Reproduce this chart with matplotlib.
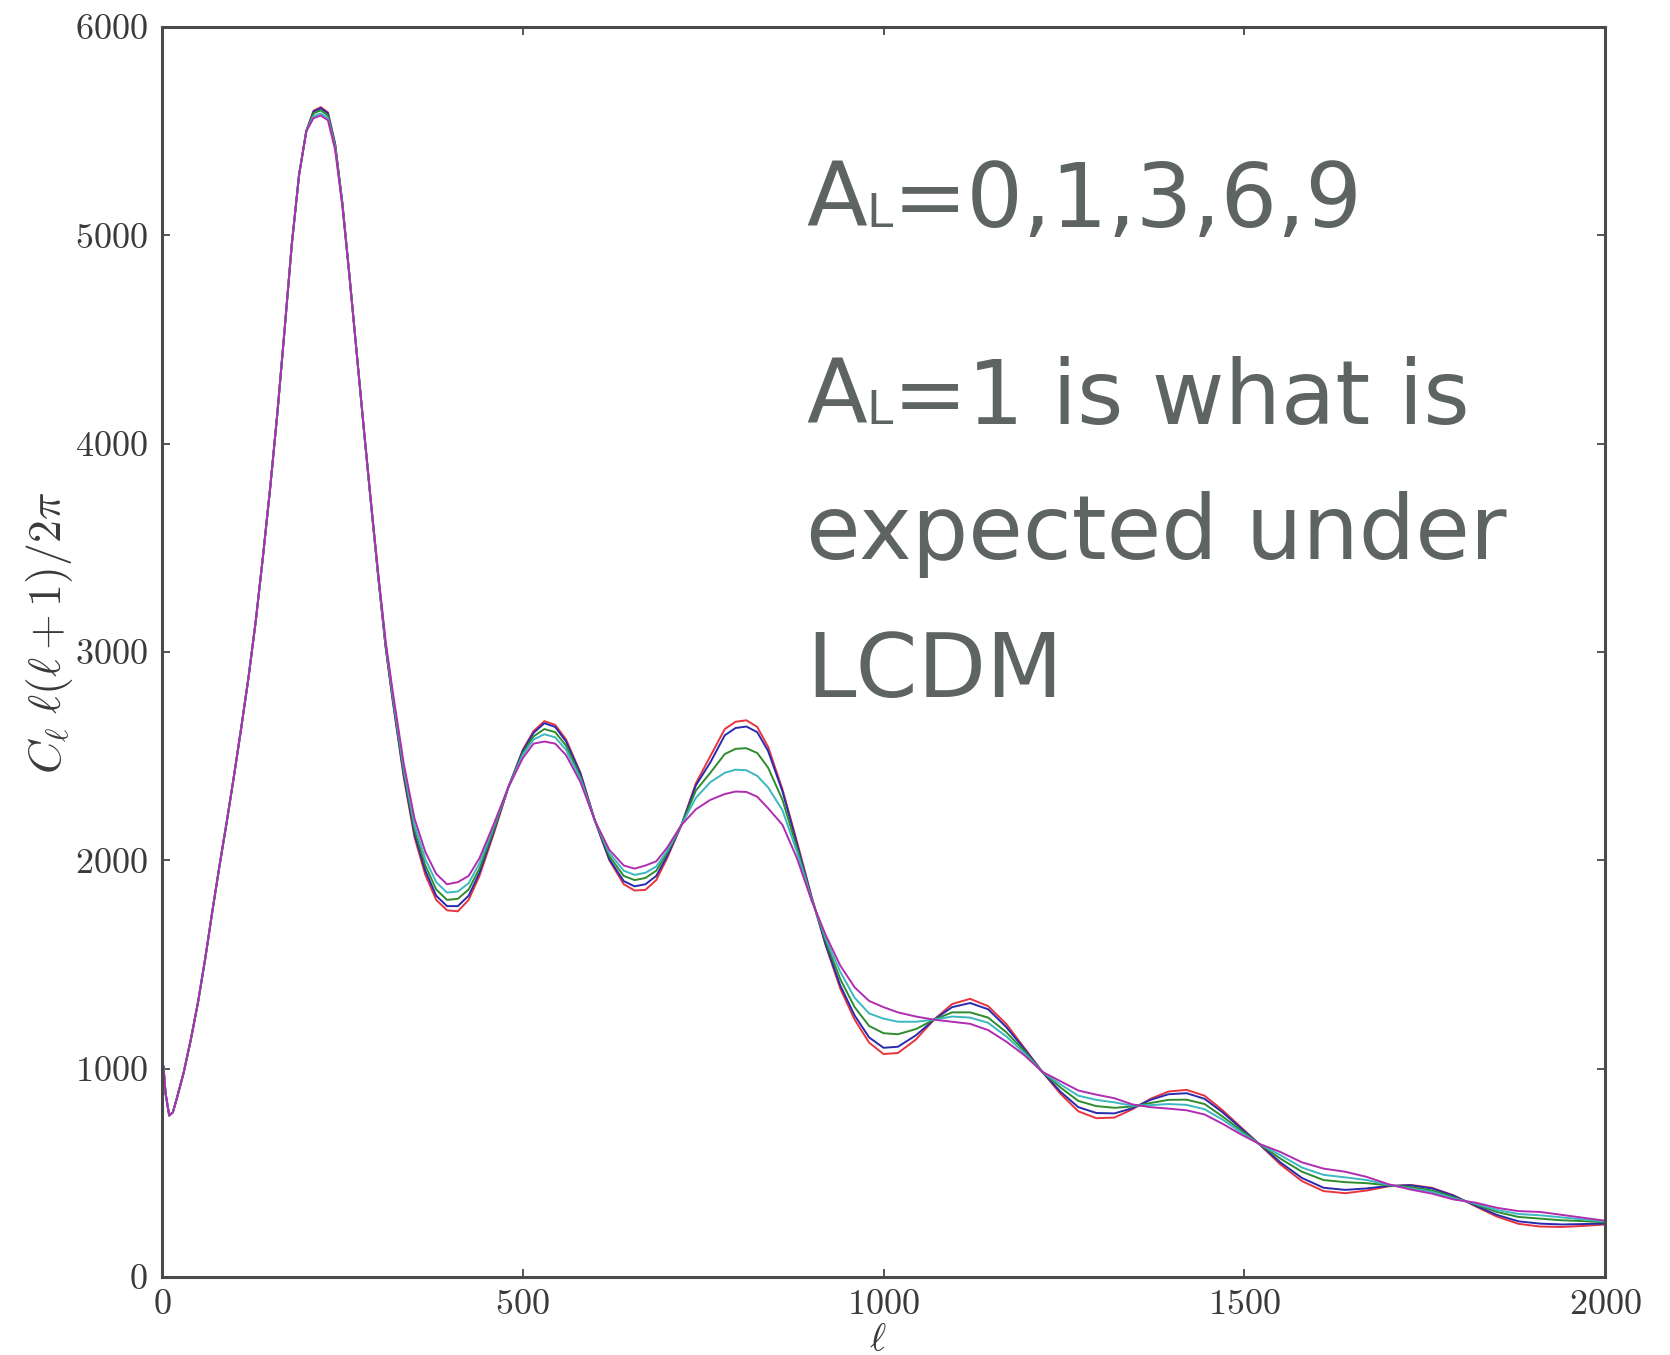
import matplotlib
matplotlib.use('Agg')
import matplotlib.pyplot as plt

# D_ell = C_ell l(l+1)/2pi for lensing amplitudes A_L = 0, 1, 3, 6, 9
LENSING_AMPS = [0, 1, 3, 6, 9]
LINE_COLORS = ['#e8343c', '#2a2ab0', '#2e8b2e', '#3cb8c0', '#b02cb0']

# below the first peak the five spectra lie on top of each other
LOW_ELL = [2, 5, 10, 15, 20, 30, 40, 50, 60, 70, 80, 90, 100, 110, 120,
           130, 140, 150, 160, 170, 180, 190, 200]
LOW_DL = [1010, 880, 775, 790, 850, 980, 1140, 1320, 1530, 1760, 1980, 2190,
          2410, 2640, 2880, 3150, 3460, 3790, 4150, 4550, 4960, 5290, 5500]

HIGH_ELL = [210, 220, 230, 240, 250, 260, 270, 280, 290, 300, 310, 320, 335,
            350, 365, 380, 395, 410, 425, 440, 460, 480, 500, 515, 530, 545,
            560, 580, 600, 620, 640, 655, 670, 685, 700, 720, 740, 760, 780,
            795, 810, 825, 840, 860, 880, 900, 920, 940, 960, 980, 1000, 1020,
            1045, 1070, 1095, 1120, 1145, 1170, 1195, 1220, 1245, 1270, 1295,
            1320, 1345, 1370, 1395, 1420, 1445, 1470, 1495, 1520, 1550, 1580,
            1610, 1640, 1670, 1700, 1730, 1760, 1790, 1820, 1850, 1880, 1910,
            1940, 1970, 2000]

DL_AL0 = [5598, 5615, 5590, 5440, 5155, 4800, 4430, 4060, 3700, 3350, 3020,
          2760, 2400, 2110, 1930, 1810, 1760, 1755,
          1810, 1925, 2130, 2350, 2530, 2620, 2668, 2650, 2580, 2420, 2190,
          2000, 1885, 1855, 1858, 1905, 2010, 2170, 2370, 2500, 2630, 2665,
          2672, 2640, 2545, 2340, 2090, 1830, 1590, 1385, 1235, 1125, 1070,
          1075, 1140, 1235, 1310, 1335, 1300, 1215, 1100, 985, 880, 795, 762,
          765, 805, 855, 890, 898, 870, 800, 720, 640, 540, 460, 412, 402,
          415, 435, 442, 428, 392, 340, 290, 255, 242, 240, 245, 252]
DL_AL1 = [5593, 5610, 5585, 5435, 5155, 4800, 4430, 4060, 3700, 3350, 3025,
          2765, 2410, 2125, 1950, 1830, 1780, 1780,
          1830, 1940, 2140, 2350, 2525, 2612, 2658, 2640, 2570, 2415, 2190,
          2005, 1900, 1875, 1885, 1925, 2020, 2170, 2360, 2470, 2600, 2635,
          2642, 2615, 2525, 2330, 2080, 1825, 1595, 1400, 1255, 1150, 1100,
          1105, 1160, 1235, 1295, 1315, 1285, 1200, 1095, 985, 890, 815, 787,
          785, 810, 850, 877, 882, 855, 790, 715, 640, 550, 475, 428, 418,
          425, 437, 440, 425, 390, 343, 298, 267, 256, 252, 254, 256]
DL_AL3 = [5585, 5600, 5575, 5430, 5150, 4800, 4430, 4060, 3702, 3355, 3030,
          2775, 2425, 2145, 1975, 1860, 1810, 1815,
          1860, 1960, 2150, 2350, 2515, 2595, 2630, 2615, 2550, 2400, 2190,
          2020, 1925, 1905, 1915, 1950, 2035, 2170, 2335, 2420, 2510, 2535,
          2538, 2515, 2445, 2290, 2060, 1820, 1610, 1430, 1295, 1205, 1170,
          1165, 1190, 1235, 1270, 1270, 1245, 1175, 1085, 985, 910, 845, 820,
          812, 818, 835, 850, 851, 830, 770, 705, 640, 568, 505, 465, 455,
          450, 440, 432, 415, 383, 348, 312, 288, 280, 272, 268, 262]
DL_AL6 = [5572, 5585, 5562, 5420, 5145, 4795, 4430, 4062, 3705, 3360, 3040,
          2790, 2445, 2170, 2005, 1895, 1845, 1850,
          1890, 1985, 2165, 2350, 2505, 2580, 2605, 2590, 2530, 2390, 2190,
          2035, 1950, 1930, 1940, 1970, 2045, 2170, 2300, 2375, 2420, 2435,
          2432, 2405, 2350, 2240, 2040, 1815, 1625, 1465, 1340, 1265, 1240,
          1225, 1225, 1235, 1250, 1245, 1220, 1155, 1075, 985, 925, 870, 850,
          838, 822, 825, 830, 826, 805, 755, 695, 640, 585, 525, 490, 478,
          465, 442, 425, 408, 378, 352, 322, 302, 296, 286, 276, 266]
DL_AL9 = [5562, 5575, 5552, 5410, 5140, 4795, 4430, 4065, 3710, 3368, 3050,
          2805, 2465, 2200, 2040, 1935, 1885, 1895,
          1925, 2010, 2175, 2350, 2490, 2560, 2570, 2560, 2505, 2375, 2190,
          2050, 1975, 1960, 1975, 1995, 2060, 2170, 2245, 2290, 2318, 2330,
          2328, 2305, 2250, 2170, 2010, 1810, 1640, 1495, 1390, 1325, 1295,
          1270, 1250, 1235, 1225, 1215, 1185, 1130, 1065, 985, 940, 895, 875,
          858, 828, 815, 808, 800, 780, 735, 685, 640, 600, 550, 520, 505,
          480, 445, 420, 400, 372, 357, 332, 316, 312, 298, 284, 270]

SPECTRA = [DL_AL0, DL_AL1, DL_AL3, DL_AL6, DL_AL9]

X_TICKS = [0, 500, 1000, 1500, 2000]
Y_TICKS = [0, 1000, 2000, 3000, 4000, 5000, 6000]

NOTE_COLOR = '#5e6462'
NOTE_FONT = 'DejaVu Sans'
NOTE_SIZE = 64
SUB_SIZE = 34

plt.rcParams['font.family'] = 'serif'
plt.rcParams['font.serif'] = ['cmr10', 'DejaVu Serif']
plt.rcParams['mathtext.fontset'] = 'cm'
plt.rcParams['axes.formatter.use_mathtext'] = True


def write_runs(fig, x, y, runs):
    """Writes pieces of text one after another along a baseline (figure coords)."""
    renderer = fig.canvas.get_renderer()
    for text, size in runs:
        piece = fig.text(x, y, text, fontsize=size, family=NOTE_FONT,
                         color=NOTE_COLOR, ha='left', va='baseline')
        x += piece.get_window_extent(renderer).width / fig.bbox.width


fig = plt.figure(figsize=(16.7, 13.55), dpi=100)
ax = fig.add_axes([0.0970, 0.0576, 0.8641, 0.9225])

ell = LOW_ELL + HIGH_ELL
for spectrum, color, amp in zip(SPECTRA, LINE_COLORS, LENSING_AMPS):
    ax.plot(ell, LOW_DL + spectrum, color=color, lw=1.4,
            solid_joinstyle='round', label=f'A_L={amp}')

ax.set_xlim(0, 2000)
ax.set_ylim(0, 6000)
ax.set_xticks(X_TICKS)
ax.set_yticks(Y_TICKS)
ax.tick_params(direction='in', top=True, right=True, length=6, width=1.2,
               labelsize=26, colors='#3a3a3a')
ax.tick_params(axis='x', pad=9)
ax.tick_params(axis='y', pad=10)
for spine in ax.spines.values():
    spine.set_color('#4a4a4a')
    spine.set_linewidth(2.2)

ax.set_xlabel(r'$\ell$', fontsize=28, color='#3a3a3a')
ax.set_ylabel(r'$C_\ell\;\ell(\ell+1)/2\pi$', fontsize=33, color='#3a3a3a')
ax.xaxis.set_label_coords(0.496, -0.036)
ax.yaxis.set_label_coords(-0.060, 0.515)

write_runs(fig, 0.4826, 0.8325, [('A', NOTE_SIZE), ('L', SUB_SIZE),
                                 ('=0,1,3,6,9', NOTE_SIZE)])
write_runs(fig, 0.4826, 0.6871, [('A', NOTE_SIZE), ('L', SUB_SIZE),
                                 ('=1 is what is', NOTE_SIZE)])
write_runs(fig, 0.4826, 0.5875, [('expected under', NOTE_SIZE)])
write_runs(fig, 0.4826, 0.4856, [('LCDM', NOTE_SIZE)])

fig.savefig('out.png', dpi=100)
